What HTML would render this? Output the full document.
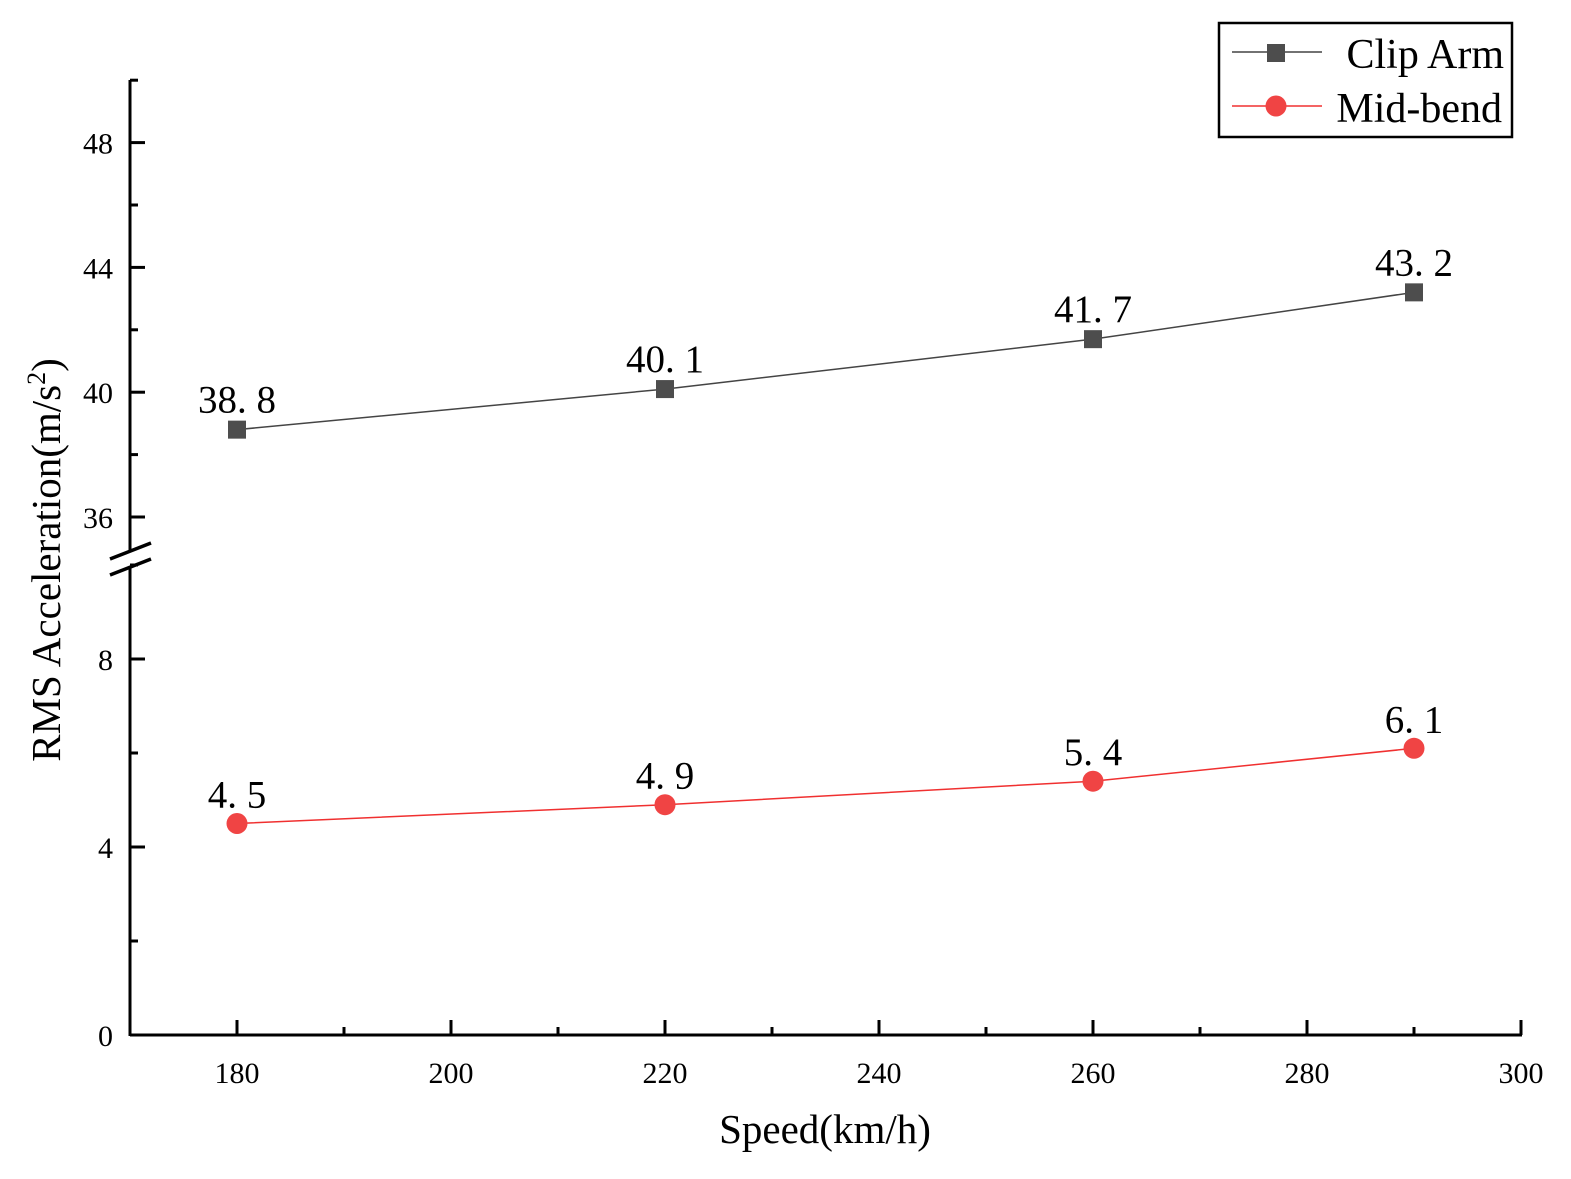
<!DOCTYPE html>
<html><head><meta charset="utf-8"><style>
body{margin:0;background:#fff}
text{font-family:"Liberation Serif","Noto Serif CJK SC",serif}
</style></head><body>
<svg id="c" width="1571" height="1174" xmlns="http://www.w3.org/2000/svg"></svg>
<script>
const speeds=[180,220,260,290];
const clipArm=[38.8,40.1,41.7,43.2];
const midBend=[4.5,4.9,5.4,6.1];
const clipLabels=["38. 8","40. 1","41. 7","43. 2"];
const midLabels=["4. 5","4. 9","5. 4","6. 1"];
const xTicks=[180,200,220,240,260,280,300];
const yTopTicks=[36,40,44,48];
const yBotTicks=[0,4,8];
const svg=document.getElementById('c');
const NS='http://www.w3.org/2000/svg';
function el(t,a,p){const e=document.createElementNS(NS,t);for(const k in a)e.setAttribute(k,a[k]);(p||svg).appendChild(e);return e;}
const X0=130,X1=1521;
const xs=v=>237+(v-180)*(1284/120);
const yTop=v=>517-(v-36)*31.2;
const yBot=v=>1035-v*47;
const g=el('g',{});
el('line',{x1:X0,y1:1035,x2:X1+1,y2:1035,stroke:'#000','stroke-width':3},g);
el('line',{x1:X0,y1:80,x2:X0,y2:551,stroke:'#000','stroke-width':3},g);
el('line',{x1:X0,y1:567,x2:X0,y2:1036,stroke:'#000','stroke-width':3},g);
el('line',{x1:110,y1:559,x2:151,y2:543,stroke:'#000','stroke-width':3.5},g);
el('line',{x1:110,y1:575,x2:151,y2:559,stroke:'#000','stroke-width':3.5},g);
xTicks.forEach(v=>{const x=xs(v);el('line',{x1:x,y1:1035,x2:x,y2:1020,stroke:'#000','stroke-width':3},g);
 const t=el('text',{x:x,y:1083,'font-size':30,'text-anchor':'middle'},g);t.textContent=v;
 if(v<300){el('line',{x1:xs(v+10),y1:1035,x2:xs(v+10),y2:1027,stroke:'#000','stroke-width':3},g);}});
yTopTicks.forEach(v=>{const y=yTop(v);el('line',{x1:X0,y1:y,x2:X0+15,y2:y,stroke:'#000','stroke-width':3},g);
 const t=el('text',{x:113,y:y+11,'font-size':30,'text-anchor':'end'},g);t.textContent=v;
 el('line',{x1:X0,y1:yTop(v+2),x2:X0+8,y2:yTop(v+2),stroke:'#000','stroke-width':3},g);});
yBotTicks.forEach(v=>{const y=yBot(v);el('line',{x1:X0,y1:y,x2:X0+15,y2:y,stroke:'#000','stroke-width':3},g);
 const t=el('text',{x:113,y:y+11,'font-size':30,'text-anchor':'end'},g);t.textContent=v;
 el('line',{x1:X0,y1:yBot(v+2),x2:X0+8,y2:yBot(v+2),stroke:'#000','stroke-width':3},g);});
let t=el('text',{x:825,y:1143,'font-size':41,'text-anchor':'middle'});t.textContent='Speed(km/h)';

t=el('text',{x:0,y:0,'font-size':41,'text-anchor':'middle',transform:'translate(60,560) rotate(-90)'});
t.innerHTML='RMS Acceleration(m/s<tspan dy="-15" font-size="26">2</tspan><tspan dy="15">)</tspan>';

const s1=el('g',{});
el('polyline',{points:speeds.map((s,i)=>xs(s)+','+yTop(clipArm[i])).join(' '),fill:'none',stroke:'#444','stroke-width':1.5},s1);
speeds.forEach((s,i)=>{const x=xs(s),y=yTop(clipArm[i]);
 const r=el('rect',{x:x-9,y:y-9,width:18,height:18,fill:'#4d4d4d'},s1);
 const l=el('text',{x:x,y:y-17,'font-size':39,'text-anchor':'middle'},s1);l.textContent=clipLabels[i];});
const s2=el('g',{});
el('polyline',{points:speeds.map((s,i)=>xs(s)+','+yBot(midBend[i])).join(' '),fill:'none',stroke:'#f03030','stroke-width':1.5},s2);
speeds.forEach((s,i)=>{const x=xs(s),y=yBot(midBend[i]);
 const c=el('circle',{cx:x,cy:y,r:10.5,fill:'#f04444'},s2);
 const l=el('text',{x:x,y:y-16,'font-size':39,'text-anchor':'middle'},s2);l.textContent=midLabels[i];});
const lg=el('g',{});
el('rect',{x:1219,y:23,width:293,height:114,fill:'#fff',stroke:'#000','stroke-width':2.5},lg);
el('line',{x1:1232,y1:52,x2:1322,y2:52,stroke:'#444','stroke-width':1.5},lg);
el('rect',{x:1267,y:44,width:18,height:18,fill:'#4d4d4d'},lg);
let lt=el('text',{x:1504,y:68,'font-size':42,'text-anchor':'end'},lg);lt.textContent='Clip Arm';
el('line',{x1:1232,y1:106,x2:1322,y2:106,stroke:'#f03030','stroke-width':1.5},lg);
el('circle',{cx:1276,cy:106,r:10.5,fill:'#f04444'},lg);
lt=el('text',{x:1502,y:122,'font-size':42,'text-anchor':'end'},lg);lt.textContent='Mid-bend';
</script>
</body></html>
